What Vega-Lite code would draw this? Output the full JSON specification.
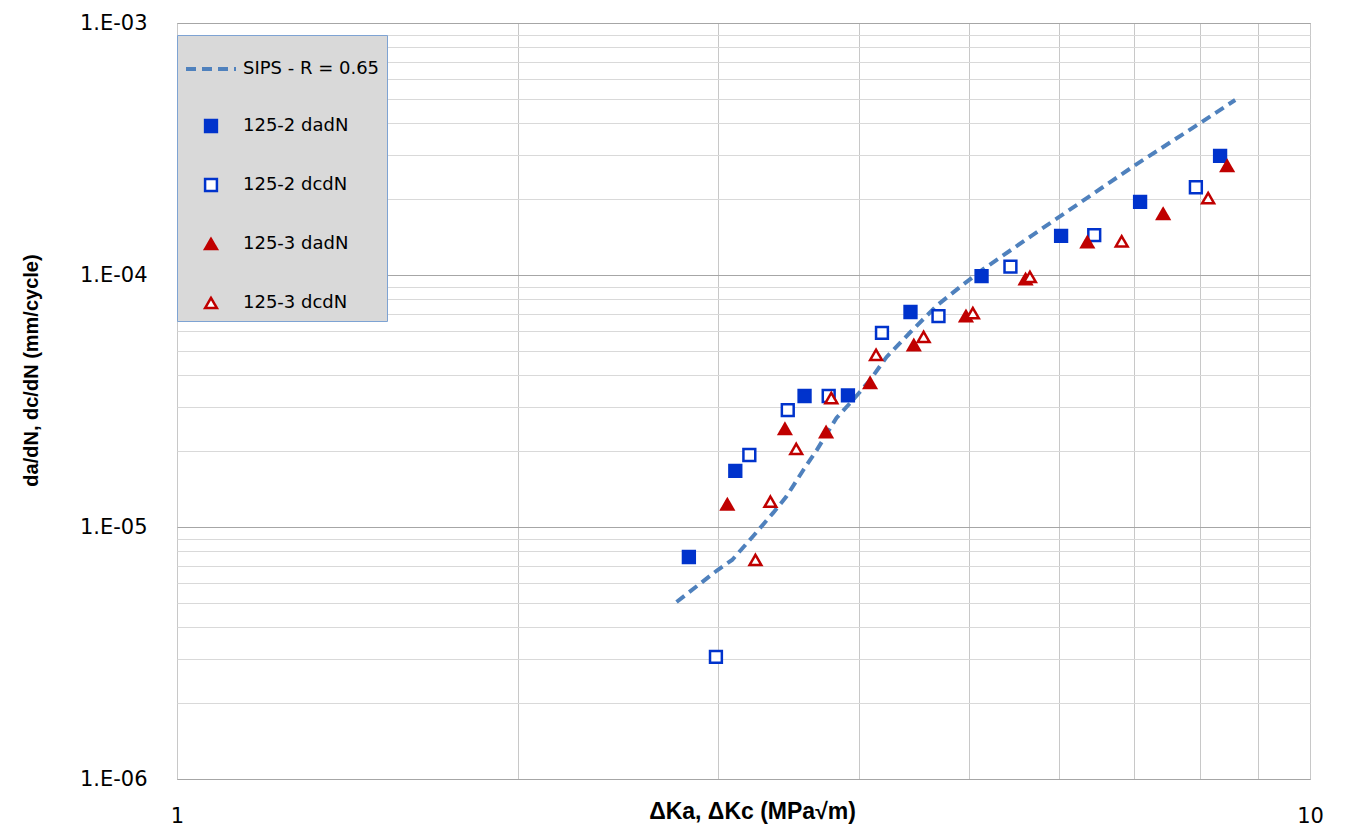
{
  "$schema": "https://vega.github.io/schema/vega-lite/v6.json",
  "width": 1133,
  "height": 756,
  "autosize": "none",
  "padding": {"left": 177, "top": 23, "right": 39, "bottom": 54},
  "background": "#ffffff",
  "config": {"view": {"stroke": "#a6a6a6", "strokeWidth": 1}, "font": "DejaVu Sans"},
  "datasets": {
    "sips": [
      {"K": 2.76, "rate": 5.04e-6}, {"K": 3.0, "rate": 6.75e-6}, {"K": 3.09, "rate": 7.4e-6},
      {"K": 3.22, "rate": 9.13e-6}, {"K": 3.36, "rate": 1.14e-5}, {"K": 3.45, "rate": 1.32e-5},
      {"K": 3.57, "rate": 1.68e-5}, {"K": 3.67, "rate": 2.02e-5}, {"K": 3.82, "rate": 2.71e-5},
      {"K": 3.95, "rate": 3.19e-5}, {"K": 4.09, "rate": 3.83e-5}, {"K": 4.23, "rate": 4.73e-5},
      {"K": 4.44, "rate": 5.94e-5}, {"K": 4.69, "rate": 7.6e-5}, {"K": 4.91, "rate": 8.96e-5},
      {"K": 5.14, "rate": 1.05e-4}, {"K": 5.69, "rate": 1.44e-4}, {"K": 7.01, "rate": 2.73e-4},
      {"K": 8.0, "rate": 4.01e-4}, {"K": 8.59, "rate": 4.95e-4}
    ],
    "tests": [
      {"series": "125-2 dadN", "K": 2.83, "rate": 7.6e-6},
      {"series": "125-2 dadN", "K": 3.11, "rate": 1.67e-5},
      {"series": "125-2 dadN", "K": 3.58, "rate": 3.31e-5},
      {"series": "125-2 dadN", "K": 3.91, "rate": 3.33e-5},
      {"series": "125-2 dadN", "K": 4.44, "rate": 7.13e-5},
      {"series": "125-2 dadN", "K": 5.13, "rate": 9.9e-5},
      {"series": "125-2 dadN", "K": 6.03, "rate": 1.43e-4},
      {"series": "125-2 dadN", "K": 7.08, "rate": 1.95e-4},
      {"series": "125-2 dadN", "K": 8.33, "rate": 2.97e-4},
      {"series": "125-2 dcdN", "K": 2.99, "rate": 3.05e-6},
      {"series": "125-2 dcdN", "K": 3.2, "rate": 1.93e-5},
      {"series": "125-2 dcdN", "K": 3.46, "rate": 2.91e-5},
      {"series": "125-2 dcdN", "K": 3.76, "rate": 3.31e-5},
      {"series": "125-2 dcdN", "K": 4.19, "rate": 5.89e-5},
      {"series": "125-2 dcdN", "K": 4.7, "rate": 6.87e-5},
      {"series": "125-2 dcdN", "K": 5.44, "rate": 1.08e-4},
      {"series": "125-2 dcdN", "K": 6.45, "rate": 1.44e-4},
      {"series": "125-2 dcdN", "K": 7.93, "rate": 2.23e-4},
      {"series": "125-3 dadN", "K": 3.06, "rate": 1.23e-5},
      {"series": "125-3 dadN", "K": 3.44, "rate": 2.45e-5},
      {"series": "125-3 dadN", "K": 3.74, "rate": 2.38e-5},
      {"series": "125-3 dadN", "K": 4.09, "rate": 3.73e-5},
      {"series": "125-3 dadN", "K": 4.47, "rate": 5.27e-5},
      {"series": "125-3 dadN", "K": 4.97, "rate": 6.87e-5},
      {"series": "125-3 dadN", "K": 5.61, "rate": 9.64e-5},
      {"series": "125-3 dadN", "K": 6.36, "rate": 1.35e-4},
      {"series": "125-3 dadN", "K": 7.42, "rate": 1.75e-4},
      {"series": "125-3 dadN", "K": 8.45, "rate": 2.71e-4},
      {"series": "125-3 dcdN", "K": 3.24, "rate": 7.4e-6},
      {"series": "125-3 dcdN", "K": 3.34, "rate": 1.26e-5},
      {"series": "125-3 dcdN", "K": 3.52, "rate": 2.04e-5},
      {"series": "125-3 dcdN", "K": 3.78, "rate": 3.25e-5},
      {"series": "125-3 dcdN", "K": 4.14, "rate": 4.82e-5},
      {"series": "125-3 dcdN", "K": 4.56, "rate": 5.68e-5},
      {"series": "125-3 dcdN", "K": 5.04, "rate": 7.06e-5},
      {"series": "125-3 dcdN", "K": 5.66, "rate": 9.82e-5},
      {"series": "125-3 dcdN", "K": 6.82, "rate": 1.36e-4},
      {"series": "125-3 dcdN", "K": 8.13, "rate": 2.02e-4}
    ]
  },
  "encoding": {
    "x": {
      "field": "K", "type": "quantitative",
      "scale": {"type": "log", "domain": [1, 10], "nice": false},
      "axis": {
        "values": [1, 2, 3, 4, 5, 6, 7, 8, 9, 10],
        "labelExpr": "datum.value == 1 || datum.value == 10 ? datum.label : ''",
        "grid": true, "gridColor": "#c8c8c8", "gridWidth": 1,
        "ticks": false, "domain": false,
        "labelFont": "DejaVu Sans", "labelFontSize": 21, "labelColor": "#000000",
        "labelPadding": 43, "labelBaseline": "alphabetic", "labelFlush": false, "labelOverlap": false,
        "title": "ΔKa, ΔKc (MPa√m)",
        "titleFont": "Liberation Sans", "titleFontSize": 23, "titleFontWeight": "bold", "titleColor": "#000000",
        "titleX": 575, "titleY": 39, "titleBaseline": "alphabetic", "titleAlign": "center"
      }
    },
    "y": {
      "field": "rate", "type": "quantitative",
      "scale": {"type": "log", "domain": [1e-6, 1e-3], "nice": false},
      "axis": {
        "values": [1e-6, 2e-6, 3e-6, 4e-6, 5e-6, 6e-6, 7e-6, 8e-6, 9e-6, 1e-5, 2e-5, 3e-5, 4e-5, 5e-5, 6e-5, 7e-5, 8e-5, 9e-5, 1e-4, 2e-4, 3e-4, 4e-4, 5e-4, 6e-4, 7e-4, 8e-4, 9e-4, 1e-3],
        "labelExpr": "abs(log(datum.value)/LN10 - round(log(datum.value)/LN10)) < 0.001 ? '1.E-0' + (-round(log(datum.value)/LN10)) : ''",
        "grid": true,
        "gridColor": {"condition": {"test": "abs(log(datum.value)/LN10 - round(log(datum.value)/LN10)) < 0.001", "value": "#a6a6a6"}, "value": "#d9d9d9"},
        "ticks": false, "domain": false,
        "labelFont": "DejaVu Sans", "labelFontSize": 21, "labelColor": "#000000",
        "labelPadding": 30, "labelOverlap": false, "labelFlush": false,
        "title": "da/dN, dc/dN (mm/cycle)",
        "titleFont": "Liberation Sans", "titleFontSize": 20, "titleFontWeight": "bold", "titleColor": "#000000",
        "titleX": -140, "titleY": 347, "titleAngle": -90, "titleBaseline": "alphabetic", "titleAlign": "center"
      }
    }
  },
  "layer": [
    {
      "data": {"name": "sips"},
      "mark": {"type": "line", "color": "#4f81bd", "strokeWidth": 4, "strokeDash": [10, 6]},
      "encoding": {}
    },
    {
      "data": {"name": "tests"},
      "mark": {"type": "point", "filled": false, "opacity": 1},
      "encoding": {
        "color": {
          "field": "series", "type": "nominal",
          "scale": {"domain": ["SIPS - R = 0.65", "125-2 dadN", "125-2 dcdN", "125-3 dadN", "125-3 dcdN"],
                    "range": ["#4f81bd", "#0033cc", "#0033cc", "#c00000", "#c00000"]},
          "legend": {
            "orient": "none", "legendX": 0, "legendY": 12, "title": null,
            "padding": 7, "rowPadding": 37, "labelOffset": 5,
            "labelFont": "DejaVu Sans", "labelFontSize": 18, "labelColor": "#000000", "labelLimit": 300,
            "fillColor": "#d9d9d9", "strokeColor": "#7ea3d3"
          }
        },
        "fill": {
          "field": "series", "type": "nominal",
          "scale": {"domain": ["SIPS - R = 0.65", "125-2 dadN", "125-2 dcdN", "125-3 dadN", "125-3 dcdN"],
                    "range": ["transparent", "#0033cc", "#ffffff", "#c00000", "#ffffff"]}
        },
        "shape": {
          "field": "series", "type": "nominal",
          "scale": {"domain": ["SIPS - R = 0.65", "125-2 dadN", "125-2 dcdN", "125-3 dadN", "125-3 dcdN"],
                    "range": ["stroke", "square", "square", "triangle-up", "triangle-up"]}
        },
        "size": {
          "field": "series", "type": "nominal",
          "scale": {"type": "ordinal", "domain": ["SIPS - R = 0.65", "125-2 dadN", "125-2 dcdN", "125-3 dadN", "125-3 dcdN"],
                    "range": [2500, 140, 140, 140, 140]}
        },
        "strokeDash": {
          "field": "series", "type": "nominal",
          "scale": {"domain": ["SIPS - R = 0.65", "125-2 dadN", "125-2 dcdN", "125-3 dadN", "125-3 dcdN"],
                    "range": [[10, 6], [1, 0], [1, 0], [1, 0], [1, 0]]}
        },
        "strokeWidth": {
          "field": "series", "type": "nominal",
          "scale": {"type": "ordinal", "domain": ["SIPS - R = 0.65", "125-2 dadN", "125-2 dcdN", "125-3 dadN", "125-3 dcdN"],
                    "range": [4, 2.5, 2.5, 2.5, 2.5]}
        }
      }
    }
  ]
}
